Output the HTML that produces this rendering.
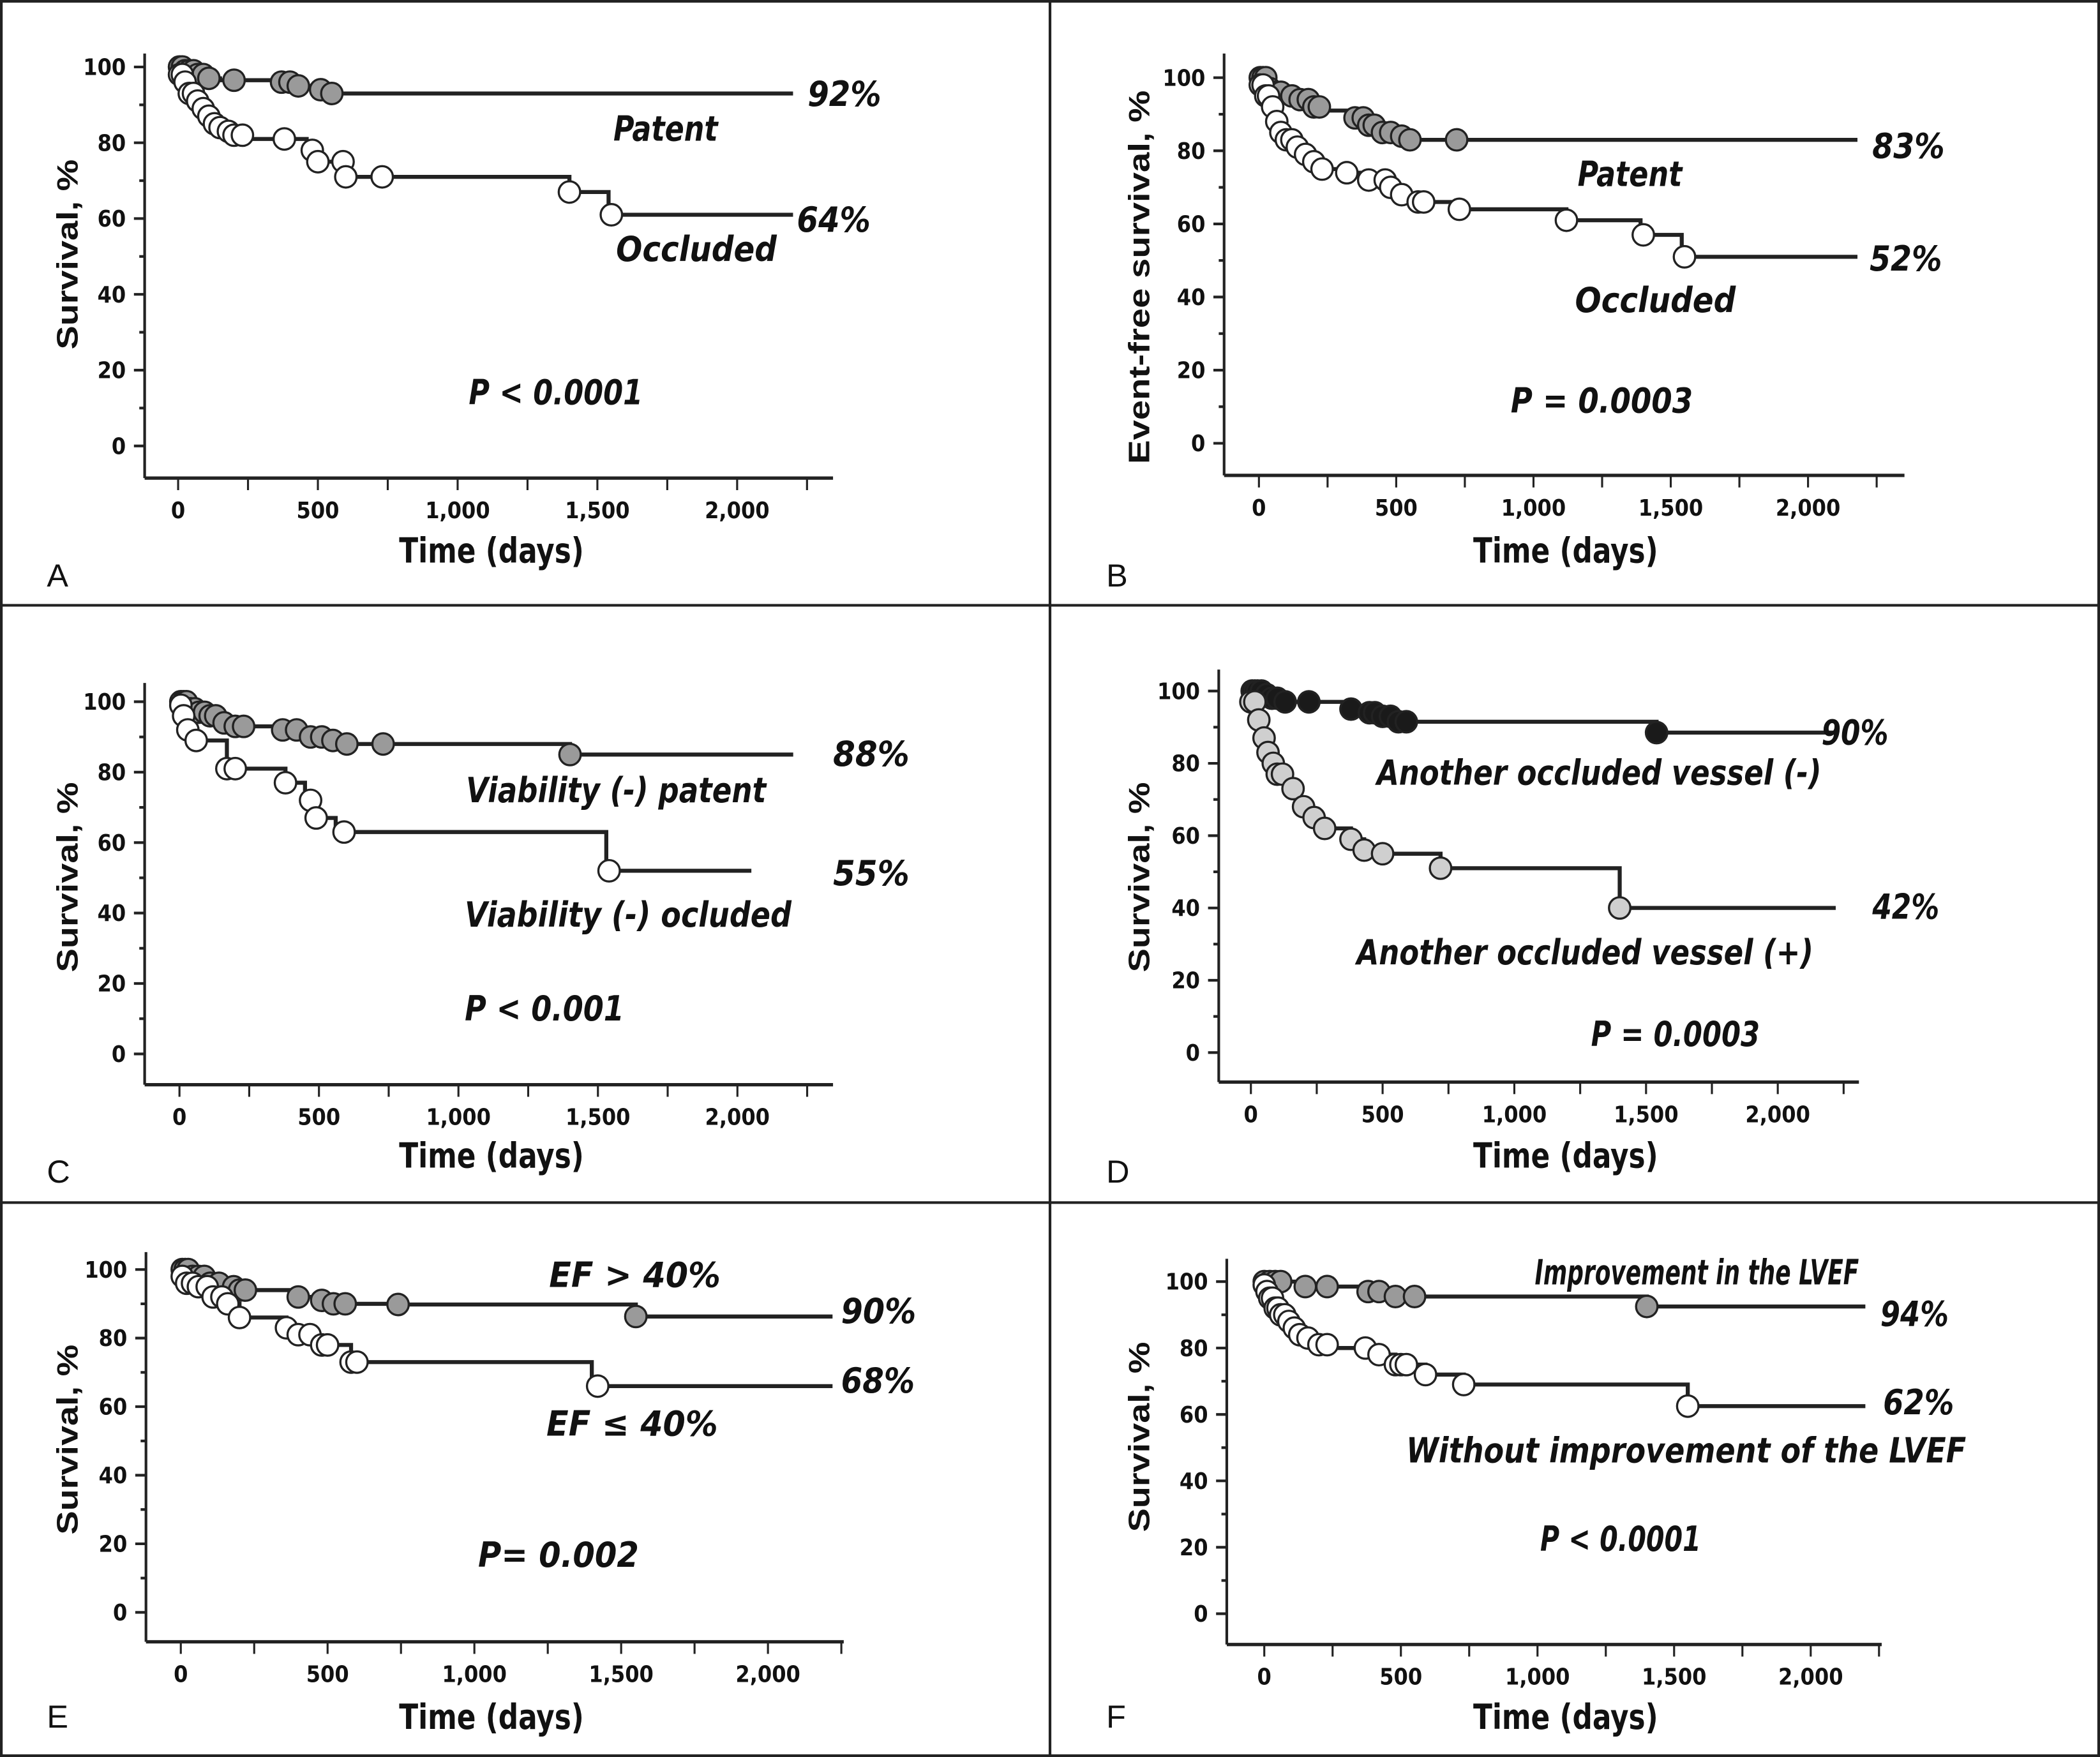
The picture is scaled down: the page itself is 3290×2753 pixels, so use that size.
<!DOCTYPE html>
<html><head><meta charset="utf-8"><style>
html,body{margin:0;padding:0;background:#fff}
svg{display:block}
text{fill:#111}
.tk{font-family:"Liberation Sans Narrow","DejaVu Sans Condensed","Liberation Sans",sans-serif;font-weight:bold;font-size:17px}
.lab{font-family:"Liberation Sans Narrow","DejaVu Sans Condensed","Liberation Sans",sans-serif;font-weight:bold;font-style:italic;font-size:26px}
.ttl{font-family:"Liberation Sans Narrow","DejaVu Sans Condensed","Liberation Sans",sans-serif;font-weight:bold;font-size:26px}
.yt{font-family:"Liberation Sans",sans-serif;font-weight:bold;font-size:22px}
.let{font-family:"Liberation Sans",sans-serif;font-size:24px}
</style></head><body>
<svg id="fig" xmlns="http://www.w3.org/2000/svg" width="3290" height="2753" viewBox="0 0 1568 1312" preserveAspectRatio="none"></svg>
<script>
// ---- Data (days, survival %) ----
const xTicks=[0,500,1000,1500,2000];
const xTickLabels=["0","500","1,000","1,500","2,000"];
const yTicks=[0,20,40,60,80,100];

const aPatT=[0,20,60,100,150,350,420,480,540];
const aPatS=[100,99,98,97,96.5,96,95,94,93];
const aPatM=[5,15,25,40,55,70,90,110,200,370,400,430,510,550];
const aOccT=[0,20,40,60,80,100,120,150,180,200,240,460,500,600,1400,1540];
const aOccS=[98,96,93,91,89,87,85,84,83,82,81,78,75,71,67,61];
const aOccM=[5,15,25,40,55,70,90,110,130,150,180,200,230,380,480,500,590,600,730,1400,1550];

const bPatT=[0,30,60,100,150,200,250,350,400,450,500,550];
const bPatS=[100,97,96,95,94,92,91,89,87,85,84,83];
const bPatM=[5,15,25,40,60,80,120,150,180,200,220,350,380,400,420,450,480,520,550,720];
const bOccT=[0,20,40,60,80,100,130,170,200,230,300,400,470,500,580,730,1120,1390,1540];
const bOccS=[98,95,92,88,85,83,81,79,77,75,74,72,70,68,66,64,61,57,51];
const bOccM=[5,15,25,35,50,65,80,100,120,140,170,200,230,320,400,460,480,520,580,600,730,1120,1400,1550];

const cPatT=[0,30,60,100,150,200,350,450,550,600,1400];
const cPatS=[100,98,97,96,94,93,92,90,89,88,85];
const cPatM=[5,15,25,40,55,70,90,110,130,160,200,230,370,420,470,510,550,600,730,1400];
const cOccT=[0,10,30,60,170,380,450,490,560,1530];
const cOccS=[99,96,92,89,81,77,72,67,63,52];
const cOccM=[5,15,30,60,170,200,380,470,490,590,1540];

const dNegT=[0,50,80,120,380,450,500,560,1540];
const dNegS=[100,99,98,97,95,94,93,91.5,88.5];
const dNegM=[5,15,25,40,60,80,100,130,220,380,450,470,500,530,560,590,1540];
const dPosT=[0,20,40,60,80,100,130,170,200,230,270,380,430,500,720,1400];
const dPosS=[97,92,87,83,80,77,73,70,68,65,62,59,56,55,51,40];
const dPosM=[0,15,30,50,65,85,100,120,160,200,240,280,380,430,500,720,1400];

const eHiT=[0,40,100,150,200,380,450,520,740,1550];
const eHiS=[100,98,96,95,94,92,91,90,89.8,86.3];
const eHiM=[5,15,25,40,60,80,100,130,180,200,220,400,480,520,560,740,1550];
const eLoT=[0,20,60,100,150,200,360,400,450,480,580,1400];
const eLoS=[98,96,95,92,90,86,83,81,80,78,73,66];
const eLoM=[5,20,40,60,90,110,140,160,200,360,400,440,480,500,580,600,1420];

const fImpT=[0,150,380,480,1400];
const fImpS=[100,98.5,97,95.5,92.5];
const fImpM=[0,20,40,60,150,230,380,420,480,550,1400];
const fWoT=[0,10,20,40,60,80,100,130,160,200,250,380,480,590,730,1550];
const fWoS=[99,97,95,92,90,88,86,84,83,81,80,78,75,72,69,62.5];
const fWoM=[0,10,20,30,40,50,60,75,90,110,130,160,200,230,370,420,480,500,520,590,730,1550];

const panels=[
 {id:"a",letter:"A",yx:108,x0:133,kx:0.2087,y100:50,ky:2.83,xay:357,xr:[108,622],ytop:40,yTitle:"Survival, %",yTitleCx:50,yTitleCy:190,yTitleLen:142,tTitleX:298,tTitleY:420,letX:35,letY:438,
  series:[{T:aPatT,S:aPatS,M:aPatM,end:2200,fill:"#9a9a9a",name:"patent"},{T:aOccT,S:aOccS,M:aOccM,end:2200,fill:"#fff",name:"occluded"}],
  labels:[["92%",603,69,55],["Patent",458,95,78],["64%",595,163,55],["Occluded",460,185,120],["P < 0.0001",350,292,130]]},
 {id:"b",letter:"B",yx:914,x0:940,kx:0.205,y100:58,ky:2.73,xay:355,xr:[914,1422],ytop:40,yTitle:"Event-free survival, %",yTitleCx:850,yTitleCy:207,yTitleLen:279,tTitleX:1100,tTitleY:420,letX:826,letY:438,
  series:[{T:bPatT,S:bPatS,M:bPatM,end:2180,fill:"#9a9a9a",name:"patent"},{T:bOccT,S:bOccS,M:bOccM,end:2180,fill:"#fff",name:"occluded"}],
  labels:[["83%",1398,108,54],["Patent",1178,129,78],["52%",1396,192,54],["Occluded",1176,223,120],["P = 0.0003",1128,298,136]]},
 {id:"c",letter:"C",yx:108,x0:134,kx:0.2083,y100:524,ky:2.63,xay:810,xr:[108,622],ytop:510,yTitle:"Survival, %",yTitleCx:50,yTitleCy:655,yTitleLen:142,tTitleX:298,tTitleY:872,letX:35,letY:883,
  series:[{T:cPatT,S:cPatS,M:cPatM,end:2200,fill:"#9a9a9a",name:"viability-patent"},{T:cOccT,S:cOccS,M:cOccM,end:2050,fill:"#fff",name:"viability-occluded"}],
  labels:[["88%",622,562,57],["Viability (-) patent",348,589,224],["55%",622,651,57],["Viability (-) ocluded",347,682,244],["P < 0.001",347,752,119]]},
 {id:"d",letter:"D",yx:910,x0:934,kx:0.1967,y100:516,ky:2.7,xay:808,xr:[910,1388],ytop:500,yTitle:"Survival, %",yTitleCx:850,yTitleCy:655,yTitleLen:142,tTitleX:1100,tTitleY:872,letX:826,letY:883,
  series:[{T:dNegT,S:dNegS,M:dNegM,end:2220,fill:"#1a1a1a",name:"vessel-negative"},{T:dPosT,S:dPosS,M:dPosM,end:2220,fill:"#cfcfcf",name:"vessel-positive"}],
  labels:[["90%",1360,546,50],["Another occluded vessel (-)",1028,576,332],["42%",1398,676,50],["Another occluded vessel (+)",1013,710,341],["P = 0.0003",1188,771,126]]},
 {id:"e",letter:"E",yx:109,x0:135,kx:0.2192,y100:948,ky:2.56,xay:1226,xr:[109,630],ytop:935,yTitle:"Survival, %",yTitleCx:50,yTitleCy:1075,yTitleLen:142,tTitleX:298,tTitleY:1291,letX:35,letY:1290,
  series:[{T:eHiT,S:eHiS,M:eHiM,end:2220,fill:"#9a9a9a",name:"ef-high"},{T:eLoT,S:eLoS,M:eLoM,end:2220,fill:"#fff",name:"ef-low"}],
  labels:[["EF > 40%",410,951,128],["90%",628,978,56],["68%",628,1030,55],["EF ≤ 40%",408,1062,128],["P= 0.002",357,1160,120]]},
 {id:"f",letter:"F",yx:916,x0:944,kx:0.204,y100:957,ky:2.48,xay:1228,xr:[916,1405],ytop:940,yTitle:"Survival, %",yTitleCx:850,yTitleCy:1073,yTitleLen:142,tTitleX:1100,tTitleY:1291,letX:826,letY:1290,
  series:[{T:fImpT,S:fImpS,M:fImpM,end:2200,fill:"#9a9a9a",name:"improvement"},{T:fWoT,S:fWoS,M:fWoM,end:2200,fill:"#fff",name:"no-improvement"}],
  labels:[["Improvement in the LVEF",1146,949,242],["94%",1404,980,51],["62%",1406,1046,53],["Without improvement of the LVEF",1050,1082,418],["P < 0.0001",1150,1148,120]]}
];

const NS="http://www.w3.org/2000/svg";
const svg=document.getElementById("fig");
function mk(tag,attrs,parent){const e=document.createElementNS(NS,tag);for(const k in attrs)e.setAttribute(k,attrs[k]);(parent||svg).appendChild(e);return e;}
function txt(s,attrs,parent){const e=mk("text",attrs,parent);e.textContent=s;return e;}
function stepVal(T,S,t){let v=S[0];for(let i=0;i<T.length;i++){if(T[i]<=t)v=S[i];}return v;}

let r=mk("rect",{x:1,y:1,width:1566,height:1310,fill:"none",stroke:"#222","stroke-width":2});


let l=mk("line",{x1:784,y1:0,x2:784,y2:1312,stroke:"#222","stroke-width":2});


[452,898].forEach(y=>{const h=mk("line",{x1:0,y1:y,x2:1568,y2:y,stroke:"#222","stroke-width":2});

});

panels.forEach(p=>{
 const g=mk("g",{});
 
 
 const X=t=>p.x0+t*p.kx, Y=s=>p.y100+(100-s)*p.ky;
 const ya=mk("line",{x1:p.yx,y1:p.ytop,x2:p.yx,y2:p.xay,stroke:"#222","stroke-width":2},g);
 
 
 const xa=mk("line",{x1:p.xr[0],y1:p.xay,x2:p.xr[1],y2:p.xay,stroke:"#222","stroke-width":2.5},g);
 
 
 for(let v=0;v<=100;v+=10){const major=v%20===0;
  const tk=mk("line",{x1:p.yx-(major?8:4),y1:Y(v),x2:p.yx,y2:Y(v),stroke:"#222","stroke-width":2},g);
  
  }
 yTicks.forEach(v=>{const t=txt(String(v),{x:p.yx-14,y:Y(v)+6,"text-anchor":"end",class:"tk"},g);
  
  });
 for(let d=0;d<=2250;d+=250){const tk=mk("line",{x1:X(d),y1:p.xay,x2:X(d),y2:p.xay+9,stroke:"#222","stroke-width":1.5},g);
  
  }
 xTicks.forEach((d,i)=>{const t=txt(xTickLabels[i],{x:X(d),y:p.xay+30,"text-anchor":"middle",class:"tk"},g);
  
  });
 const tt=txt("Time (days)",{x:p.tTitleX,y:p.tTitleY,class:"ttl",textLength:138,lengthAdjust:"spacingAndGlyphs"},g);
 
 
 const yt=txt(p.yTitle,{x:0,y:0,"text-anchor":"middle",class:"yt",textLength:p.yTitleLen,lengthAdjust:"spacingAndGlyphs",transform:`translate(${p.yTitleCx+8},${p.yTitleCy}) rotate(-90)`},g);
 
 
 const lt=txt(p.letter,{x:p.letX,y:p.letY,class:"let"},g);
 
 
 p.series.forEach(s=>{
  let d=`M${X(s.T[0])},${Y(s.S[0])}`;
  for(let i=1;i<s.T.length;i++){d+=`H${X(s.T[i])}V${Y(s.S[i])}`;}
  d+=`H${X(s.end)}`;
  const pa=mk("path",{d:d,fill:"none",stroke:"#222","stroke-width":3},g);
  
  
  s.M.forEach(t=>{const c=mk("circle",{cx:X(t),cy:Y(stepVal(s.T,s.S,t)),r:8,fill:s.fill,stroke:"#222","stroke-width":1.6},g);
   
   });
 });
 p.labels.forEach(L=>{const t=txt(L[0],{x:L[1],y:L[2]+10,class:"lab",textLength:L[3],lengthAdjust:"spacingAndGlyphs"},g);
  
  });
});
</script>
</body></html>
